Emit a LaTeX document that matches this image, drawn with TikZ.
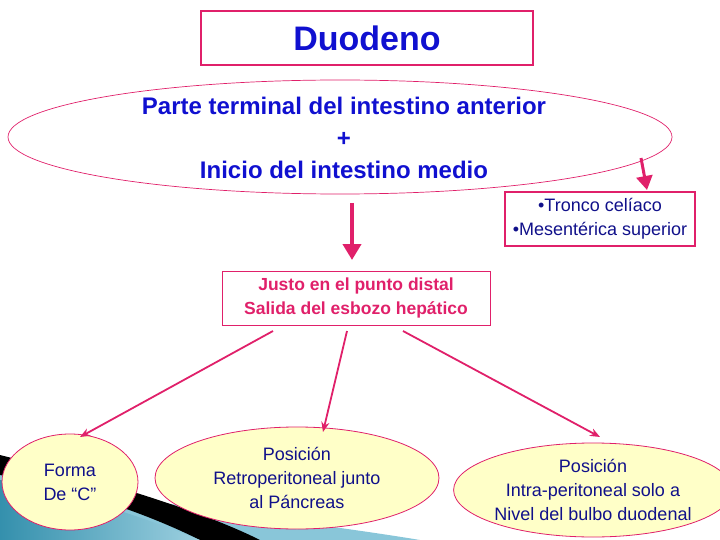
\documentclass[tikz,border=0pt]{standalone}
\usepackage{fontspec}
\setmainfont{Liberation Sans}
\usetikzlibrary{arrows.meta,shapes.geometric}
\definecolor{pk}{HTML}{E0206A}
\definecolor{bl}{HTML}{1010D0}
\definecolor{dbl}{HTML}{10108A}
\definecolor{yl}{HTML}{FFFFC8}
\definecolor{tl}{HTML}{3AA0C0}
\begin{document}
\begin{tikzpicture}[x=1pt,y=-1pt,
  thin arrow/.style={pk,line width=1.8pt,-{Stealth[length=10pt,width=8pt]}},
  yell/.style={draw=pk,fill=yl,line width=0.8pt,ellipse,text=dbl,font=\fontsize{18}{24}\selectfont,align=center,inner sep=0pt}]
\useasboundingbox (0,0) rectangle (720,540);
% background swoosh
\fill[tl!60] (0,470) .. controls (100,500) and (300,520) .. (420,540) -- (0,540) -- cycle;
\fill[black] (0,455) .. controls (100,480) and (200,510) .. (260,540) -- (200,540) .. controls (150,515) and (80,490) .. (0,475) -- cycle;
\shade[left color=tl!90!black,right color=tl!50] (0,480) .. controls (80,495) and (150,520) .. (200,540) -- (0,540) -- cycle;
% title
\node[draw=pk,line width=2.5pt,minimum width=332pt,minimum height=54pt,text=bl,font=\bfseries\fontsize{34}{38}\selectfont] (t) at (367,38) {Duodeno};
% big ellipse
\draw[pk,line width=0.7pt] (340,137) ellipse [x radius=332,y radius=57];
\node[text=bl,font=\bfseries\fontsize{24}{32}\selectfont,align=center] (e) at (344,138) {Parte terminal del intestino anterior\\+\\Inicio del intestino medio};
\coordinate (ea) at (641,158);
\coordinate (eb) at (647,190);
\draw[pk,line width=3pt,-{Triangle[length=14pt,width=16pt]}] (ea) -- (eb);
% down arrow
\coordinate (da) at (352,203);
\coordinate (db) at (352,260);
\draw[pk,line width=4pt,-{Triangle[length=16pt,width=18pt]}] (da) -- (db);
% tronco box
\node[draw=pk,line width=2.5pt,minimum width=190pt,minimum height=54pt,text=dbl,font=\fontsize{18}{24}\selectfont,align=center] (tr) at (600,219) {•Tronco celíaco\\•Mesentérica superior};
% justo box
\node[draw=pk,line width=0.8pt,minimum width=268pt,minimum height=54pt,text=pk,font=\bfseries\fontsize{17.5}{24}\selectfont,align=center] (j) at (356,298) {Justo en el punto distal\\Salida del esbozo hepático};
% yellow ellipses
\node[yell,minimum width=136pt,minimum height=96pt] (f) at (70,482) {Forma\\De “C”};
\node[yell,minimum width=284pt,minimum height=102pt] (r) at (297,478) {Posición\\Retroperitoneal junto\\al Páncreas};
\node[yell,minimum width=250pt,minimum height=94pt] (i) at (593,490) {Posición\\Intra-peritoneal solo a\\Nivel del bulbo duodenal};
% arrows
\coordinate (j1) at (273,331); \coordinate (j2) at (347,331); \coordinate (j3) at (403,331);
\coordinate (f1) at (80,437); \coordinate (r1) at (323,432); \coordinate (i1) at (600,437);
\draw[thin arrow] (j1) -- (f1);
\draw[thin arrow] (j2) -- (r1);
\draw[thin arrow] (j3) -- (i1);
\end{tikzpicture}
\end{document}
